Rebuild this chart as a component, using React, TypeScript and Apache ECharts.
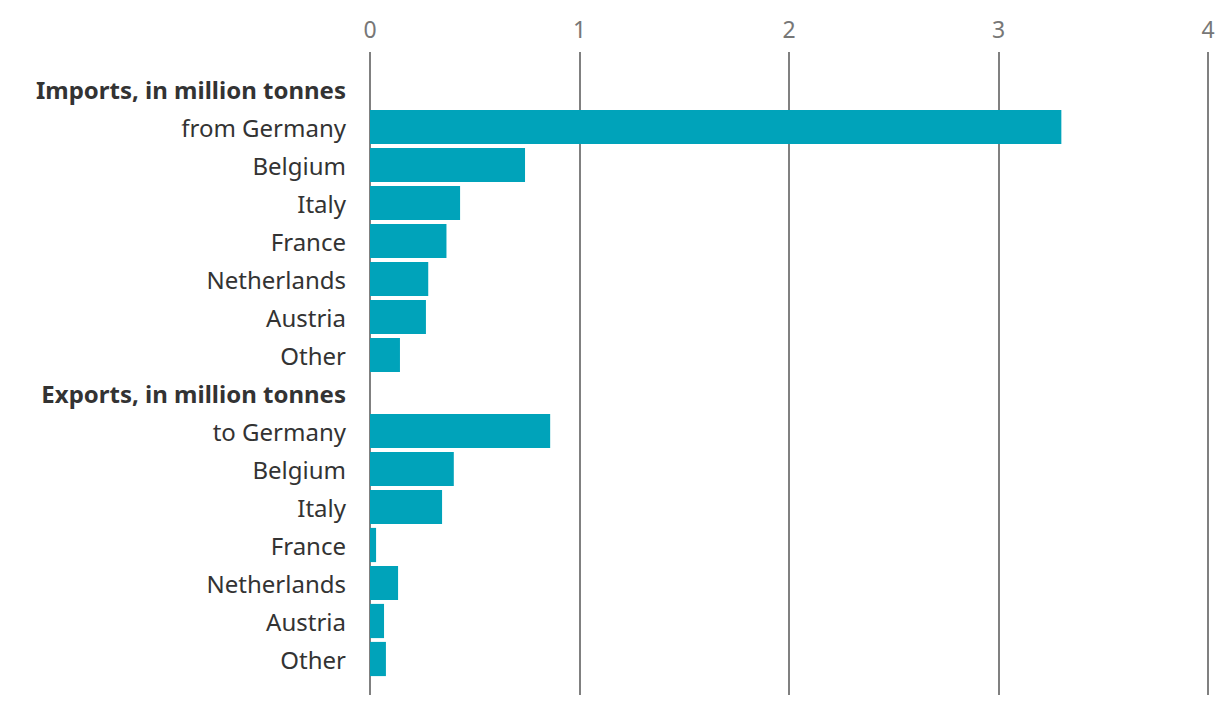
import React, { useEffect, useRef } from "react";
import * as echarts from "echarts";

const categories = [
  "Imports, in million tonnes",
  "from Germany",
  "Belgium",
  "Italy",
  "France",
  "Netherlands",
  "Austria",
  "Other",
  "Exports, in million tonnes",
  "to Germany",
  "Belgium ",
  "Italy ",
  "France ",
  "Netherlands ",
  "Austria ",
  "Other ",
];
const headerRows = ["Imports, in million tonnes", "Exports, in million tonnes"];
const values: (number | string)[] = [
  "-", 3.3, 0.74, 0.43, 0.365, 0.278, 0.267, 0.143,
  "-", 0.86, 0.4, 0.344, 0.029, 0.134, 0.067, 0.076,
];
const tickValues = { min: 0, max: 4, interval: 1 };

export default function App() {
  const ref = useRef<HTMLDivElement>(null);
  useEffect(() => {
    document.body.style.margin = "0";
    const chart = echarts.init(ref.current!, null, { renderer: "svg" });
    const font = "'Noto Sans', 'Open Sans', sans-serif";
    chart.setOption({
      animation: false,
      backgroundColor: "#ffffff",
      textStyle: { fontFamily: font },
      grid: [
        { left: 370, right: 12, top: 70, bottom: 28 },
        { left: 370, right: 12, top: 52, bottom: 11 },
      ],
      xAxis: [
        {
          gridIndex: 0,
          type: "value",
          ...tickValues,
          show: false,
        },
        {
          gridIndex: 1,
          type: "value",
          position: "top",
          ...tickValues,
          axisLine: { show: false },
          axisTick: { show: false },
          axisLabel: { color: "#777777", fontSize: 23, margin: 12, fontFamily: font },
          splitLine: { show: true, lineStyle: { color: "#808080", width: 2 } },
        },
      ],
      yAxis: [
        {
          gridIndex: 0,
          type: "category",
          inverse: true,
          data: categories,
          axisLine: { show: false },
          axisTick: { show: false },
          axisLabel: {
            margin: 24,
            fontSize: 24,
            color: "#333333",
            fontFamily: font,
            formatter: (v: string) =>
              headerRows.includes(v) ? `{b|${v}}` : v.trim(),
            rich: {
              b: { fontWeight: "bold", fontSize: 24, color: "#333333", fontFamily: font },
            },
          },
        },
        { gridIndex: 1, type: "value", min: 0, max: 1, show: false },
      ],
      series: [
        {
          type: "bar",
          xAxisIndex: 0,
          yAxisIndex: 0,
          data: values,
          barCategoryGap: "10%",
          itemStyle: { color: "#00A3BA" },
          z: 1,
        },
      ],
    });
    return () => chart.dispose();
  }, []);
  return <div ref={ref} style={{ width: 1220, height: 706 }} />;
}
